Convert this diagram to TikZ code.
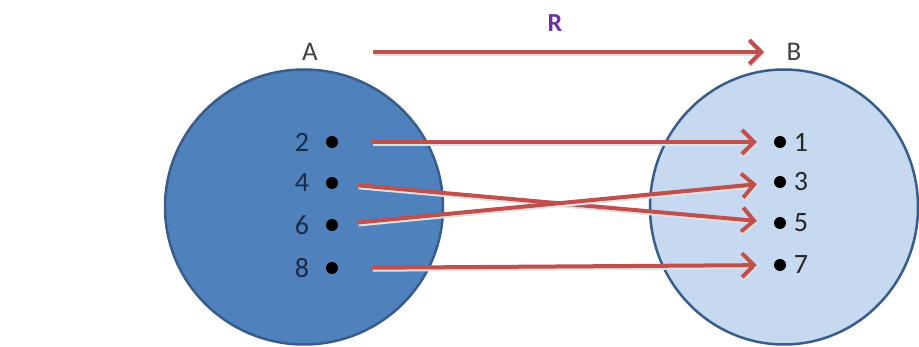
\documentclass[tikz,border=0pt]{standalone}
\usepackage{fontspec}
\setmainfont{Carlito}
\usetikzlibrary{arrows.meta,shapes.geometric}
\definecolor{setAfill}{HTML}{4F81BD}
\definecolor{setBfill}{HTML}{C6D9F0}
\definecolor{setline}{HTML}{385D8A}
\definecolor{relred}{HTML}{C0504D}
\definecolor{relpurple}{HTML}{7030A0}
\definecolor{numA}{HTML}{1B2A45}
\begin{document}
\begin{tikzpicture}[x=1pt, y=-1pt,
    setnode/.style={ellipse, draw=setline, line width=2.5pt, inner sep=0pt},
    elem/.style={circle, fill=black, inner sep=0pt, minimum size=12pt},
    num/.style={inner sep=1pt, font=\fontsize{28}{28}\selectfont},
    lbl/.style={font=\fontsize{27}{27}\selectfont, text=black!75},
    rel/.style={line width=4pt, draw=relred, -{Straight Barb[length=12pt,width=24pt]},
      preaction={draw=black!12, line width=4pt, transform canvas={shift={(0.5pt,-2pt)}}}}]
    \useasboundingbox (0,0) rectangle (919,347);
    % the two sets
    \node[setnode, fill=setAfill, minimum width=278pt, minimum height=275pt] (setA) at (304,207) {};
    \node[setnode, fill=setBfill, minimum width=268pt, minimum height=275pt] (setB) at (784,207) {};
    \node[lbl] (lblA) at (310,52) {A};
    \node[lbl] (lblB) at (794,52) {B};
    \node[font=\fontsize{26}{26}\selectfont\bfseries, text=relpurple] (relR) at (555,23) {R};
    % elements of A and B
    \foreach \n/\y in {2/142, 4/183, 6/225, 8/268} {
      \node[elem] (a\n) at (332,\y) {};
      \node[num, text=numA] (la\n) at (302,\y) {\n};
    }
    \foreach \n/\y in {1/142, 3/182, 5/223, 7/265} {
      \node[elem] (b\n) at (780,\y) {};
      \node[num, text=black!85] (lb\n) at (801,\y) {\n};
    }
    % the relation
    \draw[rel, shorten <=52pt, shorten >=19pt] (lblA) -- (lblB);
    \draw[rel, shorten <=34pt, shorten >=17pt] (a2) -- (b1);
    \draw[rel, shorten <=20pt, shorten >=17pt] (a4) -- (b5);
    \draw[rel, shorten <=20pt, shorten >=17pt] (a6) -- (b3);
    \draw[rel, shorten <=34pt, shorten >=17pt] (a8) -- (b7);
\end{tikzpicture}
\end{document}
